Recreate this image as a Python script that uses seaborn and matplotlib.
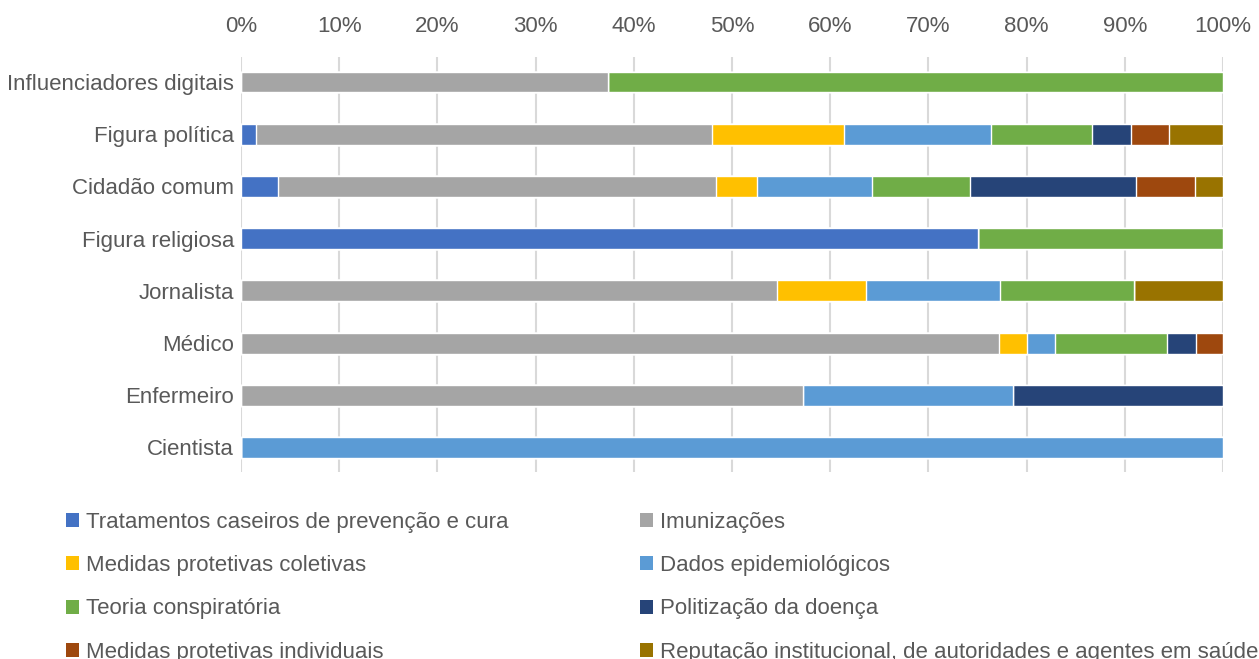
import numpy as np
import pandas as pd
import seaborn as sns
import matplotlib.pyplot as plt
from matplotlib.patches import Patch

categories = ["Influenciadores digitais", "Figura política", "Cidadão comum",
              "Figura religiosa", "Jornalista", "Médico", "Enfermeiro", "Cientista"]

series = ["Tratamentos caseiros de prevenção e cura", "Imunizações",
          "Medidas protetivas coletivas", "Dados epidemiológicos",
          "Teoria conspiratória", "Politização da doença",
          "Medidas protetivas individuais",
          "Reputação institucional, de autoridades e agentes em saúde"]

colors = ["#4472C4", "#A5A5A5", "#FFC000", "#5B9BD5",
          "#70AD47", "#264478", "#9E480E", "#997300"]

# shares in % per category (order of `categories`)
tratamentos = [0, 1.5, 3.8, 75.0, 0, 0, 0, 0]
imunizacoes = [37.4, 46.5, 44.6, 0, 54.6, 77.15, 57.2, 0]
coletivas   = [0, 13.4, 4.1, 0, 9.0, 2.85, 0, 0]
dados       = [0, 15.0, 11.8, 0, 13.7, 2.9, 21.4, 100.0]
teoria      = [62.6, 10.25, 9.9, 25.0, 13.65, 11.4, 0, 0]
politizacao = [0, 3.95, 16.9, 0, 0, 2.9, 21.4, 0]
individuais = [0, 3.9, 6.0, 0, 0, 2.8, 0, 0]
reputacao   = [0, 5.5, 2.9, 0, 9.05, 0, 0, 0]

values = [tratamentos, imunizacoes, coletivas, dados,
          teoria, politizacao, individuais, reputacao]

text_color = "#595959"
fs = 16

sns.set_theme(style="white")
plt.rcParams['font.family'] = ['Liberation Sans', 'DejaVu Sans']

df = pd.DataFrame(np.array(values).T, columns=series)
df.insert(0, "cat", categories)
cum = df[series].cumsum(axis=1)
cum.insert(0, "cat", categories)

dpi = 100
fig = plt.figure(figsize=(1259 / dpi, 659 / dpi), dpi=dpi)
ax = fig.add_axes([241 / 1259, 1 - 472 / 659, (1223 - 241) / 1259, (472 - 57) / 659])

# stacked bars: draw cumulative totals from last to first
for s, c in reversed(list(zip(series, colors))):
    sns.barplot(data=cum, x=s, y="cat", order=categories, color=c,
                width=0.4, orient="h", ax=ax, saturation=1, zorder=3)

ax.set_xlim(0, 100)
ax.set_ylim(7.47, -0.48)
ax.set_xticks(np.arange(0, 101, 10))
ax.set_xticklabels([f"{v}%" for v in range(0, 101, 10)])
ax.xaxis.tick_top()
ax.grid(axis="x", color="#D9D9D9", linewidth=1.5, zorder=0)
ax.set_axisbelow(True)
for sp in ax.spines.values():
    sp.set_visible(False)
ax.set_xlabel("")
ax.set_ylabel("")
ax.tick_params(axis="x", length=0, pad=14.5, labelsize=fs, labelcolor=text_color)
ax.tick_params(axis="y", length=0, pad=5, labelsize=fs, labelcolor=text_color)

handles = [Patch(facecolor=c, edgecolor="none") for c in colors]
order = [0, 2, 4, 6, 1, 3, 5, 7]
leg = fig.legend([handles[i] for i in order], [series[i] for i in order],
                 loc="upper left", bbox_to_anchor=(66 / 1259, 1 - 512 / 659),
                 ncol=2, frameon=False, fontsize=fs, borderpad=0, borderaxespad=0,
                 handlelength=0.6, handleheight=0.6, handletextpad=0.3,
                 labelspacing=1.0, columnspacing=5.9, labelcolor=text_color)

fig.savefig("out.png", dpi=dpi)
